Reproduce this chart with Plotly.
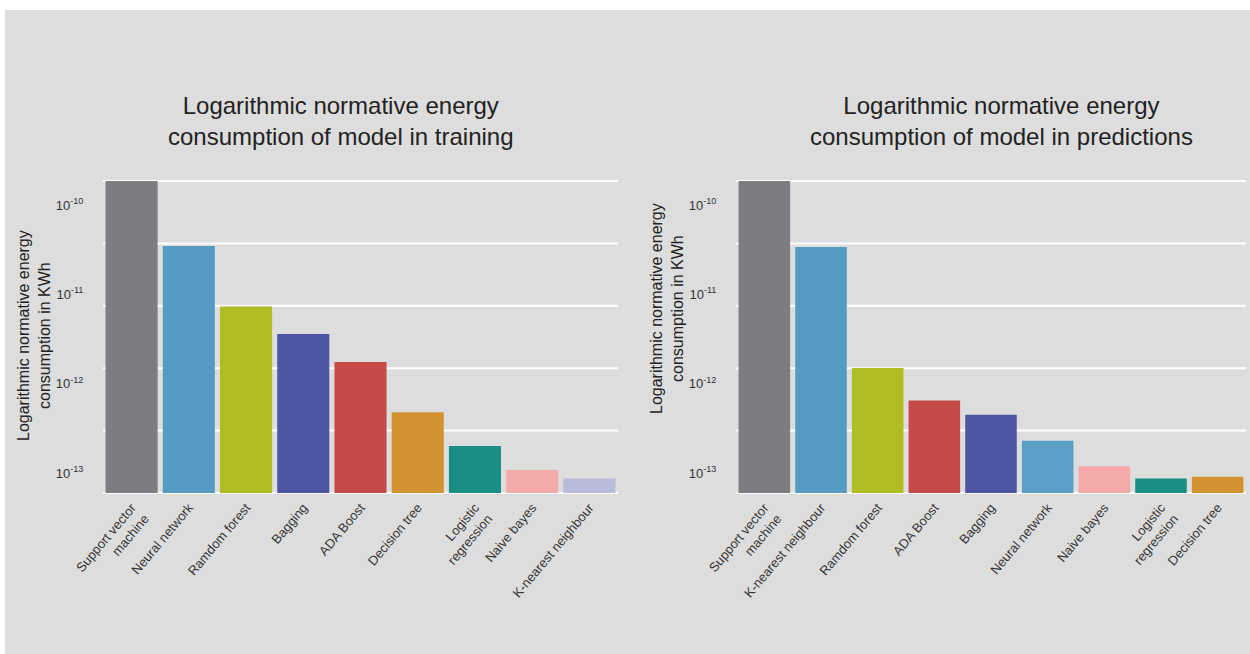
import plotly.graph_objects as go

# ---------------- data ----------------
train_labels = ["Support vector<br>machine", "Neural network", "Ramdom forest", "Bagging",
                "ADA Boost", "Decision tree", "Logistic<br>regression", "Naive bayes",
                "K-nearest neighbour"]
train_values = [1.9e-10, 3.47e-11, 7.3e-12, 3.6e-12, 1.75e-12, 4.8e-13, 2.0e-13, 1.08e-13, 8.7e-14]
train_colors = ["#7d7c81", "#559bc1", "#afbd22", "#4e56a4", "#c64a48", "#d1922f",
                "#1a8d84", "#f4aaa9", "#b8bbda"]

pred_labels = ["Support vector<br>machine", "K-nearest neighbour", "Ramdom forest", "ADA Boost",
               "Bagging", "Neural network", "Naive bayes", "Logistic<br>regression",
               "Decision tree"]
pred_values = [1.9e-10, 3.4e-11, 1.5e-12, 6.5e-13, 4.5e-13, 2.3e-13, 1.19e-13, 8.7e-14, 9.05e-14]
pred_colors = ["#7d7c81", "#559bc1", "#afbd22", "#c64a48", "#4e56a4", "#5a9fc5",
               "#f4aaa9", "#1a8d84", "#d1922f"]

ytick_vals = [1e-10, 1e-11, 1e-12, 1e-13]
ytick_text = ["10<sup>-10</sup>", "10<sup>-11</sup>", "10<sup>-12</sup>", "10<sup>-13</sup>"]

titles = ["Logarithmic normative energy<br>consumption of model in training",
          "Logarithmic normative energy<br>consumption of model in predictions"]
ytitle = "Logarithmic normative energy<br>consumption in KWh"

# ---------------- figure ----------------
W, H = 1250, 654
FONT = "Liberation Sans, Arial, sans-serif"
BG = "#dddddd"

fig = go.Figure()
fig.add_trace(go.Bar(x=list(range(len(train_values))), y=train_values,
                     marker=dict(color=train_colors, line=dict(width=0)),
                     xaxis="x", yaxis="y", showlegend=False))
fig.add_trace(go.Bar(x=list(range(len(pred_values))), y=pred_values,
                     marker=dict(color=pred_colors, line=dict(width=0)),
                     xaxis="x2", yaxis="y2", showlegend=False))

ydom = [1 - 493 / H, 1 - 181 / H]
xdom1 = [103 / W, 618 / W]
xdom2 = [736 / W, 1246 / W]
yrange = [-13.224, -9.731]

common_x = dict(showgrid=False, zeroline=False, showline=False, ticks="outside",
                ticklen=1, tickcolor="rgba(0,0,0,0)", tickangle=-50, automargin=False,
                tickfont=dict(family=FONT, size=13, color="#333333"),
                range=[-0.5, 8.5], fixedrange=True)
common_y = dict(type="log", range=yrange, domain=ydom, showgrid=False, zeroline=False,
                showline=False, tickvals=ytick_vals, ticktext=ytick_text, automargin=False,
                ticks="outside", ticklen=16, tickcolor="rgba(0,0,0,0)",
                tickfont=dict(family=FONT, size=13, color="#333333"))

fig.update_layout(
    width=W, height=H,
    margin=dict(l=0, r=0, t=0, b=0, autoexpand=False),
    paper_bgcolor=BG, plot_bgcolor=BG,
    bargap=0.09,
    font=dict(family=FONT, color="#222222"),
    xaxis=dict(domain=xdom1, anchor="y", tickvals=list(range(9)), ticktext=train_labels, **common_x),
    xaxis2=dict(domain=xdom2, anchor="y2", tickvals=list(range(9)), ticktext=pred_labels, **common_x),
    yaxis=dict(anchor="x", **common_y),
    yaxis2=dict(anchor="x2", **common_y),
)

# white horizontal guide lines (evenly spaced in the plot area)
shapes = []
for xr, yr in (("x domain", "y domain"), ("x2 domain", "y2 domain")):
    for k in range(6):
        f = k / 5
        shapes.append(dict(type="line", xref=xr, yref=yr, x0=0, x1=1, y0=f, y1=f,
                           line=dict(color="white", width=2), layer="below"))
# white page border strips (top and left)
shapes.append(dict(type="rect", xref="paper", yref="paper", x0=0, x1=1, y0=1 - 10 / H, y1=1,
                   fillcolor="white", line=dict(width=0), layer="above"))
shapes.append(dict(type="rect", xref="paper", yref="paper", x0=0, x1=5 / W, y0=0, y1=1,
                   fillcolor="white", line=dict(width=0), layer="above"))
fig.update_layout(shapes=shapes)

annotations = [
    dict(text=titles[0], x=341 / W, y=1 - 121 / H, xref="paper", yref="paper",
         showarrow=False, font=dict(family=FONT, size=24, color="#222222"),
         xanchor="center", yanchor="middle", align="center"),
    dict(text=titles[1], x=1001 / W, y=1 - 121 / H, xref="paper", yref="paper",
         showarrow=False, font=dict(family=FONT, size=24, color="#222222"),
         xanchor="center", yanchor="middle", align="center"),
    dict(text=ytitle, x=34 / W, y=1 - 336 / H, xref="paper", yref="paper",
         showarrow=False, textangle=-90, font=dict(family=FONT, size=16, color="#222222"),
         xanchor="center", yanchor="middle", align="center"),
    dict(text=ytitle, x=667 / W, y=1 - 309 / H, xref="paper", yref="paper",
         showarrow=False, textangle=-90, font=dict(family=FONT, size=16, color="#222222"),
         xanchor="center", yanchor="middle", align="center"),
]
fig.update_layout(annotations=annotations)

fig.write_html("out.html", config={"displayModeBar": False})
